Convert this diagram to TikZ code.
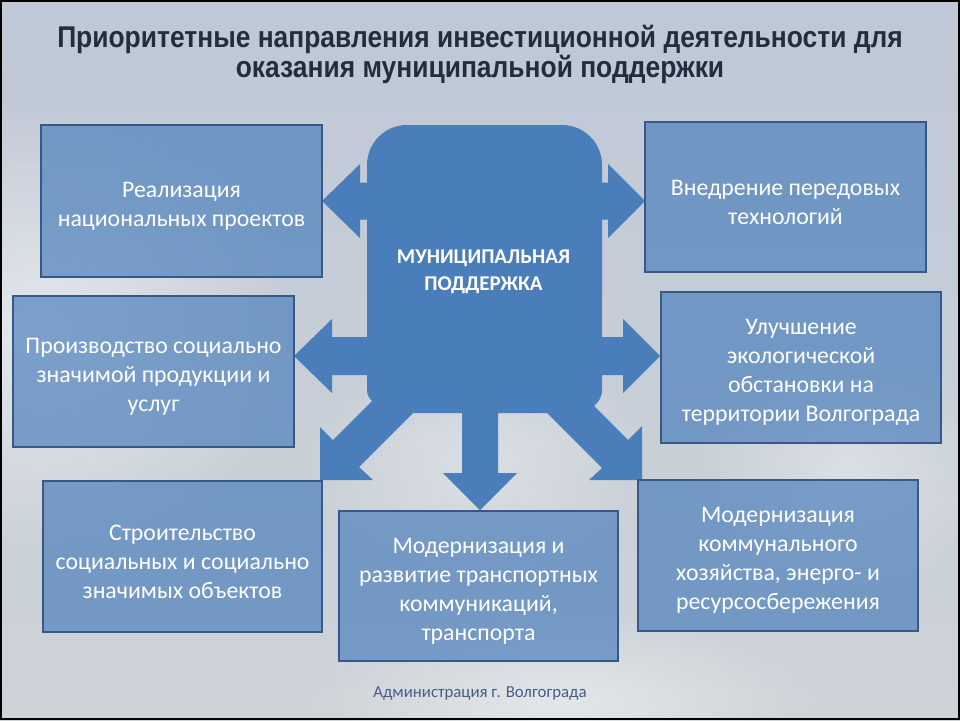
\documentclass[tikz,border=0pt]{standalone}
\usepackage{fontspec}
\setmainfont{Carlito}
\newfontfamily\titlefont[FakeStretch=0.88]{Liberation Sans}
\usetikzlibrary{fadings}
\definecolor{shapeblue}{RGB}{74,126,187}
\definecolor{boxborder}{RGB}{56,88,135}
\definecolor{titlecol}{RGB}{35,45,62}
\definecolor{footcol}{RGB}{72,92,140}
\definecolor{skytop}{RGB}{190,200,214}
\definecolor{skymid}{RGB}{222,230,238}
\definecolor{skybot}{RGB}{206,211,216}
\tikzfading[name=softglow, inner color=transparent!0, outer color=transparent!100]
\tikzset{
  boxst/.style={draw=boxborder, line width=2pt, fill=shapeblue, fill opacity=0.68, inner sep=0pt},
  boxtext/.style={text=white, align=center, inner sep=0pt, yshift=-5pt,
    font=\fontsize{23.8}{29}\selectfont},
  glow/.style={fill=white, path fading=softglow}
}
\begin{document}
\begin{tikzpicture}[x=1pt,y=-1pt]
\useasboundingbox (0,0) rectangle (960,720);
% background sky
\shade[top color=skytop, middle color=skymid, bottom color=skybot] (0,0) rectangle (960,720);
\begin{scope}
\clip (0,0) rectangle (960,720);
\fill[glow, opacity=0.55] (40,330) ellipse [x radius=260, y radius=230];
\fill[glow, opacity=0.45] (560,700) ellipse [x radius=260, y radius=90];
\fill[glow, opacity=0.35] (850,470) ellipse [x radius=160, y radius=120];
\fill[glow, opacity=0.35] (480,460) ellipse [x radius=180, y radius=120];
\end{scope}
% title
\node[font=\titlefont\bfseries\fontsize{30}{30}\selectfont, text=titlecol, align=center] (title) at (480,54)
  {Приоритетные направления инвестиционной деятельности для\\оказания муниципальной поддержки};
% central shape
\fill[shapeblue]
 (367,165) arc[start angle=180,end angle=270,radius=40] -- (562,125) arc[start angle=270,end angle=360,radius=40]
 -- (602,182.5) -- (608,182.5) -- (608,164) -- (645,201) -- (608,238) -- (608,219.5) -- (602,219.5)
 -- (602,337) -- (623,337) -- (623,319) -- (660,356) -- (623,393) -- (623,375) -- (602,375)
 -- (602,390) .. controls (602,398) and (598,402) .. (594,406)
 -- (628,440) -- (642,426) -- (642,480) -- (589,480) -- (602,468) -- (547,413)
 -- (498,413) -- (498,473) -- (517,473) -- (480,510) -- (443,473) -- (462,473) -- (462,413)
 -- (413,413) -- (359,467) -- (373,480) -- (320,480) -- (320,427) -- (333,440) -- (372,401)
 .. controls (369,398) and (367,395) .. (367,390)
 -- (367,375) -- (332,375) -- (332,393) -- (294,356) -- (332,319) -- (332,337) -- (367,337)
 -- (367,219.5) -- (360,219.5) -- (360,238) -- (322,201) -- (360,164) -- (360,182.5) -- (367,182.5) -- cycle;
\node[font=\bfseries\fontsize{21}{27}\selectfont, text=white, align=center] (center) at (483.5,272)
  {МУНИЦИПАЛЬНАЯ\\ПОДДЕРЖКА};
% boxes
\node[boxst, minimum width=281, minimum height=152] (b1) at (181.5,201) {};
\node[boxst, minimum width=281, minimum height=150] (b2) at (785.5,197) {};
\node[boxst, minimum width=281, minimum height=151] (b3) at (153.5,371.5) {};
\node[boxst, minimum width=280, minimum height=151] (b4) at (801,367.5) {};
\node[boxst, minimum width=279, minimum height=151] (b5) at (182.5,556.5) {};
\node[boxst, minimum width=279, minimum height=150] (b6) at (478.5,586) {};
\node[boxst, minimum width=280, minimum height=151] (b7) at (778,555.5) {};
\node[boxtext] (t1) at (b1.center) {Реализация\\национальных проектов};
\node[boxtext] (t2) at (b2.center) {Внедрение передовых\\технологий};
\node[boxtext] (t3) at (b3.center) {Производство социально\\значимой продукции и\\услуг};
\node[boxtext] (t4) at (b4.center) {Улучшение\\экологической\\обстановки на\\территории Волгограда};
\node[boxtext] (t5) at (b5.center) {Строительство\\социальных и социально\\значимых объектов};
\node[boxtext] (t6) at (b6.center) {Модернизация и\\развитие транспортных\\коммуникаций,\\транспорта};
\node[boxtext] (t7) at (b7.center) {Модернизация\\коммунального\\хозяйства, энерго- и\\ресурсосбережения};
% footer
\node[font=\fontsize{16.8}{19}\selectfont, text=footcol] (foot) at (480,693) {Администрация г. Волгограда};
% frame
\draw[black, line width=2pt] (1,1) rectangle (959,719);
\end{tikzpicture}
\end{document}
